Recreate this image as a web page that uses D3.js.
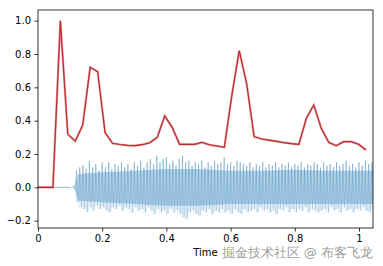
<!DOCTYPE html>
<html>
<head>
<meta charset="utf-8">
<script src="https://cdn.jsdelivr.net/npm/d3@7"></script>
<style>
  body { margin: 0; background: #fff; }
  text { font-family: "DejaVu Sans", sans-serif; }
</style>
</head>
<body>
<div id="chart"></div>
<script>
// onset envelope, one value per frame (hop 512 @ 22050 Hz)
const hop = 512, sr = 22050;
const onsetEnv = [0, 0, 0, 1.0, 0.318, 0.277, 0.374, 0.72, 0.694, 0.328,
  0.264, 0.257, 0.252, 0.25, 0.256, 0.268, 0.30, 0.428, 0.36, 0.258,
  0.258, 0.258, 0.27, 0.255, 0.248, 0.24, 0.55, 0.82, 0.62, 0.304,
  0.29, 0.283, 0.276, 0.268, 0.262, 0.258, 0.414, 0.494, 0.354, 0.27,
  0.25, 0.274, 0.274, 0.258, 0.224];

// waveform peaks, one bin every 10 ms starting at 0 s
const waveStep = 0.01;
const waveMax = [0.003, 0.003, 0.003, 0.003, 0.003, 0.003, 0.003, 0.003, 0.003, 0.003, 0.003,
  0.01, 0.10, 0.12, 0.13, 0.11, 0.16, 0.12, 0.14, 0.10, 0.15,
  0.12, 0.15, 0.11, 0.14, 0.13, 0.15, 0.12, 0.14, 0.11, 0.15,
  0.13, 0.16, 0.12, 0.15, 0.17, 0.14, 0.19, 0.15, 0.17, 0.18,
  0.14, 0.16, 0.13, 0.17, 0.19, 0.15, 0.16, 0.13, 0.15, 0.14,
  0.16, 0.12, 0.15, 0.13, 0.16, 0.14, 0.15, 0.18, 0.14, 0.15,
  0.13, 0.16, 0.15, 0.14, 0.13, 0.15, 0.12, 0.14, 0.13, 0.15,
  0.12, 0.14, 0.13, 0.15, 0.12, 0.14, 0.13, 0.15, 0.12, 0.14,
  0.13, 0.15, 0.12, 0.14, 0.13, 0.15, 0.14, 0.12, 0.15, 0.13,
  0.14, 0.12, 0.15, 0.13, 0.14, 0.16, 0.13, 0.14, 0.12, 0.15,
  0.13, 0.16, 0.14, 0.15];
const waveMin = [-0.003, -0.003, -0.003, -0.003, -0.003, -0.003, -0.003, -0.003, -0.003, -0.003, -0.003,
  -0.01, -0.09, -0.12, -0.13, -0.15, -0.12, -0.14, -0.11, -0.13, -0.12,
  -0.14, -0.15, -0.12, -0.13, -0.11, -0.14, -0.12, -0.13, -0.15, -0.12,
  -0.14, -0.13, -0.15, -0.12, -0.14, -0.16, -0.13, -0.15, -0.14, -0.16,
  -0.13, -0.15, -0.14, -0.16, -0.18, -0.19, -0.15, -0.14, -0.16, -0.17,
  -0.14, -0.15, -0.13, -0.16, -0.14, -0.15, -0.13, -0.15, -0.14, -0.16,
  -0.13, -0.15, -0.16, -0.13, -0.15, -0.14, -0.13, -0.15, -0.12, -0.14,
  -0.13, -0.15, -0.14, -0.16, -0.13, -0.14, -0.12, -0.15, -0.13, -0.15,
  -0.13, -0.14, -0.12, -0.15, -0.13, -0.14, -0.15, -0.14, -0.13, -0.15,
  -0.12, -0.14, -0.13, -0.15, -0.12, -0.14, -0.13, -0.15, -0.13, -0.14,
  -0.12, -0.14, -0.15, -0.13];

// dense core of the waveform
const coreTimes = [0.112, 0.125, 0.2, 0.3, 0.4, 0.5, 0.6, 0.7, 0.8, 0.9, 1.0, 1.044];
const coreTop = [0.0, 0.08, 0.09, 0.10, 0.11, 0.11, 0.10, 0.10, 0.105, 0.10, 0.10, 0.10];
const coreBottom = [0.0, -0.08, -0.09, -0.10, -0.11, -0.11, -0.10, -0.10, -0.10, -0.10, -0.10, -0.10];

const xTicks = [0, 0.2, 0.4, 0.6, 0.8, 1.0];
const yTicks = [-0.2, 0, 0.2, 0.4, 0.6, 0.8, 1.0];
const duration = 1.0436;

const margin = { top: 10, right: 10, bottom: 38, left: 38 },
      width = 383 - margin.left - margin.right,
      height = 266 - margin.top - margin.bottom;

const svgRoot = d3.select("#chart").append("svg")
    .attr("width", 383)
    .attr("height", 266);

const svg = svgRoot.append("g")
    .attr("transform", `translate(${margin.left},${margin.top})`);

const x = d3.scaleLinear().domain([0, duration]).range([0, width]);
const y = d3.scaleLinear().domain([-0.244, 1.064]).range([height, 0]);

svg.append("clipPath").attr("id", "clip")
  .append("rect").attr("width", width).attr("height", height);

const plot = svg.append("g").attr("clip-path", "url(#clip)");

// waveform
const waveData = waveMax.map((m, i) => ({ t: i * waveStep, hi: m, lo: waveMin[i] }));
const coreData = coreTimes.map((t, i) => ({ t: t, hi: coreTop[i], lo: coreBottom[i] }));

plot.append("path")
    .datum(coreData)
    .attr("fill", "#1f77b4")
    .attr("fill-opacity", 0.3)
    .attr("d", d3.area().x(d => x(d.t)).y0(d => y(d.lo)).y1(d => y(d.hi)));

// quiet lead-in before the sound starts
plot.append("path")
    .datum(waveData.filter(d => d.hi < 0.005))
    .attr("fill", "none")
    .attr("stroke", "#1f77b4")
    .attr("stroke-opacity", 0.35)
    .attr("stroke-width", 1)
    .attr("d", d3.line().x(d => x(d.t)).y(d => y((d.hi + d.lo) / 2)));

// zig-zag through the peaks, then a vertical stroke per bin
const zig = [];
waveData.forEach(d => {
  zig.push([x(d.t), y(d.hi)]);
  zig.push([x(d.t + waveStep / 2), y(d.lo)]);
});
plot.append("path")
    .attr("fill", "none")
    .attr("stroke", "#1f77b4")
    .attr("stroke-opacity", 0.28)
    .attr("stroke-width", 0.9)
    .attr("d", d3.line()(zig));

plot.selectAll("line.spike")
    .data(waveData.filter(d => d.hi > 0.005))
    .enter().append("line")
    .attr("class", "spike")
    .attr("x1", d => x(d.t)).attr("x2", d => x(d.t))
    .attr("y1", d => y(d.hi)).attr("y2", d => y(d.lo))
    .attr("stroke", "#1f77b4")
    .attr("stroke-opacity", 0.22)
    .attr("stroke-width", 1);

// onset envelope
const onsetData = onsetEnv.map((v, i) => ({ t: i * hop / sr, v: v }));
const onsetLine = d3.line().x(d => x(d.t)).y(d => y(d.v));

plot.append("path")
    .datum(onsetData)
    .attr("fill", "none")
    .attr("stroke", "#e0646a")
    .attr("stroke-opacity", 0.7)
    .attr("stroke-width", 2.2)
    .attr("d", onsetLine);

plot.append("path")
    .datum(onsetData)
    .attr("fill", "none")
    .attr("stroke", "#b42d33")
    .attr("stroke-width", 1.1)
    .attr("d", onsetLine);

// axes
const xAxis = svg.append("g")
    .attr("transform", `translate(0,${height})`)
    .call(d3.axisBottom(x).tickValues(xTicks).tickFormat(d3.format("~g"))
      .tickSize(3.5).tickSizeOuter(0).tickPadding(3.5));

const yAxis = svg.append("g")
    .call(d3.axisLeft(y).tickValues(yTicks).tickFormat(d3.format(".1f"))
      .tickSize(3.5).tickSizeOuter(0).tickPadding(3.5));

[xAxis, yAxis].forEach(a => {
  a.select(".domain").remove();
  a.selectAll("text").attr("font-size", 10).attr("font-family", "DejaVu Sans").attr("fill", "#000");
  a.selectAll("line").attr("stroke", "#000").attr("stroke-width", 0.8);
});

// frame
svg.append("rect")
    .attr("width", width).attr("height", height)
    .attr("fill", "none")
    .attr("stroke", "#000")
    .attr("stroke-width", 0.8);

// x label
svg.append("text")
    .attr("x", width / 2)
    .attr("y", height + 28)
    .attr("text-anchor", "middle")
    .attr("font-size", 10)
    .attr("fill", "#000")
    .text("Time");

// watermark
svgRoot.append("text")
    .attr("x", 373)
    .attr("y", 257)
    .attr("text-anchor", "end")
    .attr("font-size", 13)
    .attr("font-family", "'Noto Sans CJK SC', sans-serif")
    .attr("fill", "#8a8a8a")
    .attr("fill-opacity", 0.85)
    .text("掘金技术社区 @ 布客飞龙");
</script>
</body>
</html>
